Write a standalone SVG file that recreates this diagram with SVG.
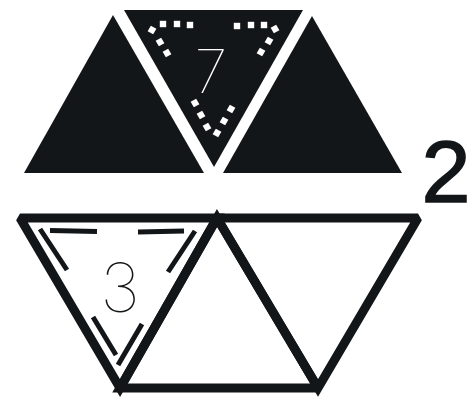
<svg xmlns="http://www.w3.org/2000/svg" width="473" height="398" viewBox="0 0 473 398">
<style>
.solid{fill:#131618}
.dot{fill:#ffffff}
.out{fill:none;stroke:#131618;stroke-width:9;stroke-linejoin:miter;stroke-miterlimit:2}
.dash{stroke:#131618;stroke-width:5;stroke-linecap:butt}
.num{font-family:Inter,"Lato","Liberation Sans",sans-serif;font-weight:100;text-anchor:middle}
</style>
<defs>
<rect id="sq" x="-3.2" y="-3.2" width="6.4" height="6.4"/>
</defs>
<rect width="473" height="398" fill="#ffffff"/>
<g id="top-left-triangle"><polygon class="solid" points="113,15 204,173 24,173"/></g>
<g id="top-middle-triangle">
<polygon class="solid" points="124,10 303,10 214,167"/>
<g class="dot">
<use href="#sq" transform="translate(163,24)"/>
<use href="#sq" transform="translate(177,24)"/>
<use href="#sq" transform="translate(190,25)"/>
<use href="#sq" transform="translate(152,30) rotate(30)"/>
<use href="#sq" transform="translate(160,42) rotate(-30)"/>
<use href="#sq" transform="translate(167,53) rotate(-30)"/>
<use href="#sq" transform="translate(237,26)"/>
<use href="#sq" transform="translate(251,25)"/>
<use href="#sq" transform="translate(264,25)"/>
<use href="#sq" transform="translate(275,29) rotate(-30)"/>
<use href="#sq" transform="translate(269,41) rotate(30)"/>
<use href="#sq" transform="translate(261,52) rotate(30)"/>
<use href="#sq" transform="translate(195,103) rotate(-30)"/>
<use href="#sq" transform="translate(201,115) rotate(-30)"/>
<use href="#sq" transform="translate(207,127) rotate(-30)"/>
<use href="#sq" transform="translate(217,133) rotate(30)"/>
<use href="#sq" transform="translate(224,121) rotate(30)"/>
<use href="#sq" transform="translate(231,109) rotate(30)"/>
</g>
<text class="num" x="211" y="93" font-size="60" font-weight="200" fill="#ffffff">7</text>
</g>
<g id="top-right-triangle"><polygon class="solid" points="312,16 402,173 223,173"/></g>
<g id="bottom-left-triangle">
<polygon class="out" points="20,218 217,218 120,388"/>
<line class="dash" x1="50" y1="230.5" x2="97" y2="231.5"/>
<line class="dash" x1="138" y1="232" x2="184" y2="231"/>
<line class="dash" x1="40" y1="229" x2="67" y2="270"/>
<line class="dash" x1="195" y1="231" x2="168" y2="272"/>
<line class="dash" x1="93" y1="317" x2="116" y2="355"/>
<line class="dash" x1="142" y1="324" x2="118" y2="365"/>
<text class="num" x="120" y="312" font-size="68" fill="#131618">3</text>
</g>
<g id="bottom-middle-triangle"><polygon class="out" points="217,218 318,388 120,388"/></g>
<g id="bottom-right-triangle"><polygon class="out" points="217,218 418,218 318,388"/></g>
<g id="connectors"></g>
<g id="label-2"><text x="446" y="202" font-family="Liberation Sans, sans-serif" font-size="88" text-anchor="middle" fill="#131618" stroke="#131618" stroke-width="1.5">2</text></g>
</svg>
